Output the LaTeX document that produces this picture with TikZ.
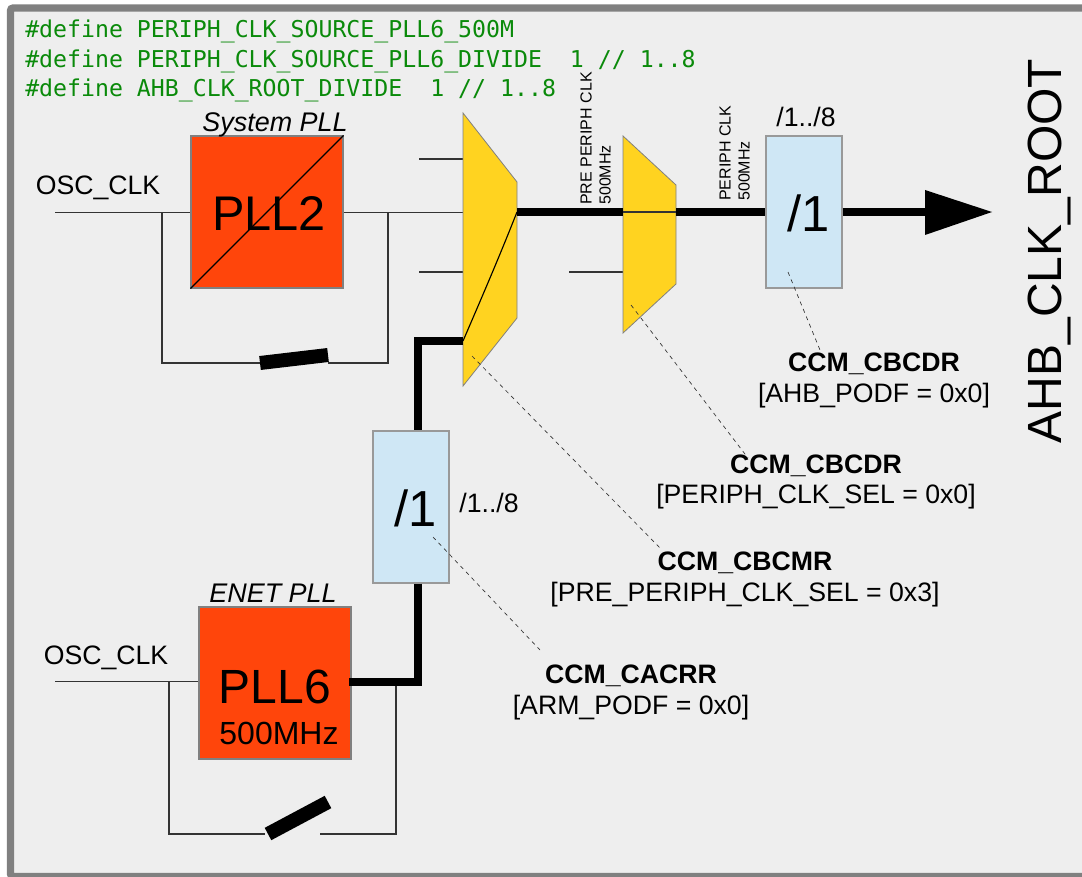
\documentclass[tikz,border=0pt]{standalone}
\usepackage{fontspec}
\setmainfont{Liberation Sans}
\setmonofont{DejaVu Sans Mono}
\definecolor{panelgray}{HTML}{EEEEEE}
\definecolor{framegray}{HTML}{808080}
\definecolor{pllred}{HTML}{FF450B}
\definecolor{muxyellow}{HTML}{FFD320}
\definecolor{divblue}{HTML}{CFE7F5}
\definecolor{codegreen}{HTML}{0A8A0A}
\newcommand{\fsz}[1]{\fontsize{#1}{#1}\selectfont}
\tikzset{
  pllbox/.style={draw=framegray, fill=pllred, line width=0.8pt, minimum width=114pt, minimum height=114pt, inner sep=0pt},
  divbox/.style={draw=framegray!80, fill=divblue, line width=0.8pt, minimum width=57pt, minimum height=114pt, inner sep=0pt},
  muxshape/.style={draw=framegray, fill=muxyellow, line width=0.6pt},
  wire/.style={draw=black!80, line width=0.85pt},
  bus/.style={draw=black, line width=5.5pt},
  lever/.style={draw=black, line width=10.5pt},
  leader/.style={draw=black!80, line width=0.5pt, dash pattern=on 3pt off 3pt},
  codeline/.style={anchor=west, inner sep=0pt, text=codegreen, font=\ttfamily\fsz{17.4}},
  plain/.style={inner sep=0pt, font=\fsz{20}},
  regname/.style={inner sep=0pt, font=\bfseries\fsz{20}},
  tiny/.style={inner sep=0pt, rotate=90, anchor=west, font=\fsz{12}}
}
\begin{document}
\begin{tikzpicture}[x=0.75pt, y=-0.75pt]
  \useasboundingbox (0,0) rectangle (1082,877);
  % panel
  \begin{scope}
    \clip (0,0) rectangle (1082,877);
    \draw[fill=panelgray, draw=framegray, line width=5.5pt, rounded corners=2pt] (10.5,8) rectangle (1100,876.5);
  \end{scope}

  % defines
  \node[codeline] (defa) at (25,31) {\#define PERIPH\_CLK\_SOURCE\_PLL6\_500M};
  \node[codeline] (defb) at (25,61) {\#define PERIPH\_CLK\_SOURCE\_PLL6\_DIVIDE\ \ 1 // 1..8};
  \node[codeline] (defc) at (25,90) {\#define AHB\_CLK\_ROOT\_DIVIDE\ \ 1 // 1..8};

  % free ends and mux ports
  \coordinate (oscup) at (55,212.5);
  \coordinate (tapa) at (162,212.5);
  \coordinate (tapb) at (388,212.5);
  \coordinate (oscdn) at (55,681.5);
  \coordinate (tapc) at (169,681.5);
  \coordinate (tapd) at (396,682);
  \coordinate (inzero) at (463,159);
  \coordinate (inone) at (463,212.5);
  \coordinate (intwo) at (463,272);
  \coordinate (inthree) at (463,341);
  \coordinate (outone) at (517,212);
  \coordinate (selin) at (623,212);
  \coordinate (selalt) at (623,272);
  \coordinate (selout) at (676,212);
  \coordinate (freea) at (419,159);
  \coordinate (freeb) at (419,272);
  \coordinate (freec) at (569,272);
  \coordinate (corna) at (418,341);
  \coordinate (cornb) at (418,682);
  \coordinate (pllsixout) at (349,682);
  \coordinate (tipstart) at (925,212);

  % thin wires, System PLL
  \draw[wire] (oscup) -- (tapa) -- (191,212.5);
  \draw[wire] (343,212.5) -- (tapb) -- (inone);
  \draw[wire] (tapa) -- (162,363) -- (260,363);
  \draw[wire] (328,363) -- (388,363) -- (tapb);
  \draw[wire] (freea) -- (inzero);
  \draw[wire] (freeb) -- (intwo);
  \draw[wire] (freec) -- (selalt);
  % thin wires, ENET PLL
  \draw[wire] (oscdn) -- (tapc) -- (199,681.5);
  \draw[wire] (tapc) -- (169,834) -- (265,834);
  \draw[wire] (320,834) -- (396,834) -- (tapd);

  % switches
  \draw[lever] (260,363) -- (328,355);
  \draw[lever] (268,834) -- (328,802);

  % muxes
  \draw[muxshape] (463,113) -- (517,182) -- (517,318) -- (463,386) -- cycle;
  \draw[muxshape] (623,136) -- (676,185) -- (676,284) -- (623,333) -- cycle;
  \draw[wire, draw=black] (inthree) .. controls (485,290) and (500,255) .. (outone);
  \draw[wire] (selin) -- (selout);

  % PLLs
  \node[pllbox] (plltwo) at (267,212) {};
  \draw[wire, draw=black] (plltwo.south west) -- (plltwo.north east);
  \node[inner sep=0pt, font=\fsz{36.5}] (plltwotxt) at (269,214) {PLL2};
  \node[inner sep=0pt, font=\itshape\fsz{20.2}] (plltwoname) at (275,125) {System PLL};
  \node[pllbox] (pllsix) at (275,683) {};
  \node[inner sep=0pt, font=\fsz{36}] (pllsixtxt) at (275,687) {PLL6};
  \node[inner sep=0pt, font=\fsz{24}] (pllsixfreq) at (279,733) {500MHz};
  \node[inner sep=0pt, font=\itshape\fsz{20.2}] (pllsixname) at (273,593) {ENET PLL};

  % dividers
  \node[divbox] (divahb) at (804,212) {};
  \node[divbox] (divenet) at (411,507) {};
  \node[inner sep=0pt, font=\fsz{38}] (divahbtxt) at (809,213) {/1};
  \node[inner sep=0pt, font=\fsz{38}] (divenettxt) at (416,508) {/1};
  \node[plain] (rangeahb) at (806,117) {/1../8};
  \node[plain] (rangeenet) at (489,503) {/1../8};

  % thick path
  \draw[bus] (outone) -- (selin);
  \draw[bus] (selout) -- (divahb.west);
  \draw[bus] (divahb.east) -- (tipstart);
  \fill[black] (925,190) -- (992,212) -- (925,235) -- cycle;
  \draw[bus, line join=miter] (inthree) -- (corna) -- (divenet.north -| corna);
  \draw[bus, line join=miter] (divenet.south -| corna) -- (cornb) -- (pllsixout);

  % rotated labels
  \node[tiny] (preclk) at (586,205) {PRE PERIPH CLK};
  \node[tiny] (prefreq) at (605,205) {500MHz};
  \node[tiny] (perclk) at (725,201) {PERIPH CLK};
  \node[tiny] (perfreq) at (744,201) {500MHz};
  \node[inner sep=0pt, rotate=90, font=\fsz{36}] (rootname) at (1049,251) {AHB\_CLK\_ROOT};
  \node[plain] (osca) at (98,188) {OSC\_CLK};
  \node[plain] (oscb) at (106,658) {OSC\_CLK};

  % registers
  \node[regname] (regahb) at (874,364) {CCM\_CBCDR};
  \node[plain] (valahb) at (874,396) {[AHB\_PODF = 0x0]};
  \node[regname] (regper) at (816,466) {CCM\_CBCDR};
  \node[plain] (valper) at (816,497) {[PERIPH\_CLK\_SEL = 0x0]};
  \node[regname] (regpre) at (745,563) {CCM\_CBCMR};
  \node[plain] (valpre) at (745,595) {[PRE\_PERIPH\_CLK\_SEL = 0x3]};
  \node[regname] (regarm) at (631,676) {CCM\_CACRR};
  \node[plain] (valarm) at (631,708) {[ARM\_PODF = 0x0]};

  % leaders
  \coordinate (endahb) at (820,350);
  \coordinate (endper) at (748,458);
  \coordinate (endpre) at (660,548);
  \coordinate (endarm) at (540,650);
  \draw[leader] (788,272) -- (endahb);
  \draw[leader] (631,305) -- (endper);
  \draw[leader] (472,356) -- (endpre);
  \draw[leader] (433,537) -- (endarm);
\end{tikzpicture}
\end{document}
